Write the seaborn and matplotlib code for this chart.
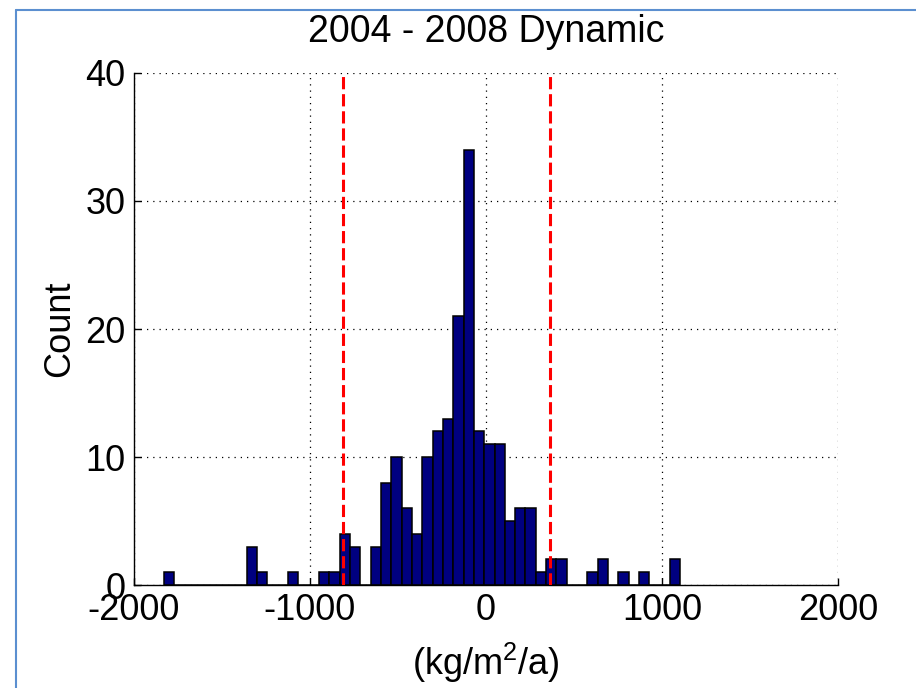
import numpy as np
import pandas as pd
import matplotlib
matplotlib.use("Agg")
import matplotlib.pyplot as plt
from matplotlib.lines import Line2D
import seaborn as sns

# Histogram data (50 bins from data min to max)
bin_start = -1830.0
bin_width = 58.7
n_bins = 50
counts = [1, 0, 0, 0, 0, 0, 0, 0, 3, 1,
          0, 0, 1, 0, 0, 1, 1, 4, 3, 0,
          3, 8, 10, 6, 4, 10, 12, 13, 21, 34,
          12, 11, 11, 5, 6, 6, 1, 2, 2, 0,
          0, 1, 2, 0, 1, 0, 1, 0, 0, 2]
threshold_lines = [-810, 365]
title = "2004 - 2008 Dynamic"
x_ticks = [-2000, -1000, 0, 1000, 2000]
y_ticks = [0, 10, 20, 30, 40]

edges = [float(bin_start + bin_width * i) for i in range(n_bins + 1)]
centers = [(edges[i] + edges[i + 1]) / 2 for i in range(n_bins)]
df = pd.DataFrame({"value": centers, "count": counts})

sns.set_style("white")
plt.rcParams["font.family"] = ["Liberation Sans", "DejaVu Sans"]
plt.rcParams["axes.unicode_minus"] = False
plt.rcParams["mathtext.default"] = "regular"
plt.rcParams["text.color"] = "black"
plt.rcParams["axes.labelcolor"] = "black"

fig = plt.figure(figsize=(9.16, 6.88), dpi=100)
ax = fig.add_axes([0.1463, 0.1497, 0.9148 - 0.1463, 0.8939 - 0.1497])

sns.histplot(data=df, x="value", weights="count", bins=edges, ax=ax,
             color="#000080", edgecolor="black", linewidth=1.1, alpha=1.0)

for v in threshold_lines:
    ax.axvline(v, color="#ff0000", linewidth=2.2, linestyle=(0, (4, 1.6)), zorder=5)

ax.set_xlim(-2000, 2000)
ax.set_ylim(0, 40)
ax.set_xticks(x_ticks)
ax.set_yticks(y_ticks)
ax.grid(True, color="black", linestyle=(0, (1, 4)), linewidth=0.9)
ax.set_axisbelow(True)
for s in ["top", "right"]:
    ax.spines[s].set_visible(False)
for s in ["left", "bottom"]:
    ax.spines[s].set_color("black")
    ax.spines[s].set_linewidth(1.0)
ax.tick_params(direction="in", length=5, width=1, labelsize=26,
               left=True, bottom=True, colors="black")
ax.tick_params(axis="x", pad=6)
ax.tick_params(axis="y", pad=6)
ax.set_title(title, fontsize=27, pad=22, color="black")
ax.set_xlabel("(kg/m$^{2}$/a)", fontsize=26, labelpad=9, color="black")
ax.set_ylabel("Count", fontsize=26, labelpad=6, color="black")

# light-blue frame of the screenshot
fig.add_artist(Line2D([16 / 916, 16 / 916], [0, 1 - 10 / 688], transform=fig.transFigure,
                      color="#5b8fd0", linewidth=1.5))
fig.add_artist(Line2D([16 / 916, 1], [1 - 10 / 688, 1 - 10 / 688], transform=fig.transFigure,
                      color="#5b8fd0", linewidth=1.5))

fig.savefig("out.png", dpi=100)
